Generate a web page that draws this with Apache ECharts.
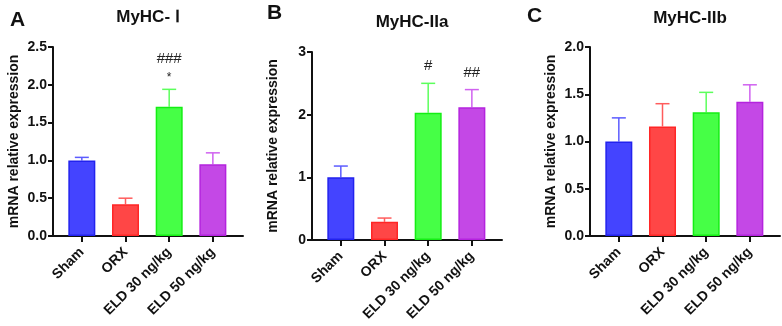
<!DOCTYPE html>
<html>
<head>
<meta charset="utf-8">
<style>
  html, body { margin: 0; padding: 0; background: #fff; }
  #chart { width: 782px; height: 326px; }
</style>
<script src="https://cdn.jsdelivr.net/npm/echarts@6/dist/echarts.min.js"></script>
</head>
<body>
<div id="chart"></div>
<script>
const categories = ['Sham', 'ORX', 'ELD 30 ng/kg', 'ELD 50 ng/kg']
const titles = ['MyHC- Ⅰ', 'MyHC-IIa', 'MyHC-IIb']
const letters = ['A', 'B', 'C']

// bar height (mean) and top of the error whisker (mean + SD)
const meanA = [1.0, 0.42, 1.71, 0.95]
const errA = [1.04, 0.50, 1.94, 1.10]
const meanB = [1.0, 0.29, 2.03, 2.12]
const errB = [1.18, 0.35, 2.50, 2.40]
const meanC = [1.0, 1.16, 1.31, 1.42]
const errC = [1.25, 1.40, 1.52, 1.60]

// significance marks
const starA = ['', '', '*', '']
const hashA = ['', '', '###', '']
const starB = ['', '', '', '']
const hashB = ['', '', '#', '##']
const starC = ['', '', '', '']
const hashC = ['', '', '', '']

// y axis ranges
const yMax = [2.5, 3, 2]
const yStep = [0.5, 1, 0.5]
const yDigits = [1, 0, 1]

const fills = ['#4444FF', '#FF4646', '#46FF46', '#C448E6']
const borders = ['#2222EE', '#FF2626', '#14EE14', '#B423DE']
const whiskers = ['#5C5CFF', '#FF5C5C', '#5CFF5C', '#D062F0']

const font = "'Liberation Sans', Arial, sans-serif"
const chart = echarts.init(document.getElementById('chart'))

const panels = [
  { mean: meanA, err: errA, star: starA, hash: hashA, grid: { left: 53, top: 47, width: 190, height: 189 } },
  { mean: meanB, err: errB, star: starB, hash: hashB, grid: { left: 312, top: 52, width: 190, height: 188 } },
  { mean: meanC, err: errC, star: starC, hash: hashC, grid: { left: 590, top: 47, width: 190, height: 189 } }
]
const titleX = [143, 407, 685]
const titleY = [4, 9, 5]
const letterPos = [[5, 5], [262, -2], [522, 1]]

function errorRender (panel) {
  return function (params, api) {
    const i = api.value(0)
    const base = api.coord([i, api.value(1)])
    const top = api.coord([i, api.value(2)])
    const color = whiskers[params.dataIndex]
    const children = [
      { type: 'line', shape: { x1: base[0], y1: base[1], x2: top[0], y2: top[1] }, style: { stroke: color, lineWidth: 1.5 } },
      { type: 'line', shape: { x1: top[0] - 7, y1: top[1], x2: top[0] + 7, y2: top[1] }, style: { stroke: color, lineWidth: 1.5 } }
    ]
    const star = panel.star[params.dataIndex]
    const hash = panel.hash[params.dataIndex]
    if (star) {
      children.push({ type: 'text', style: { text: star, x: top[0], y: top[1] - 12, align: 'center', verticalAlign: 'middle', font: '12px ' + font, fill: '#222' } })
    }
    if (hash) {
      children.push({ type: 'text', style: { text: hash, x: top[0], y: top[1] - (star ? 30 : 17), align: 'center', verticalAlign: 'middle', font: '15px ' + font, fill: '#222' } })
    }
    return { type: 'group', children: children }
  }
}

const option = {
  animation: false,
  title: [],
  grid: [],
  xAxis: [],
  yAxis: [],
  series: []
}

panels.forEach(function (p, k) {
  option.title.push({
    text: titles[k],
    left: titleX[k],
    top: titleY[k],
    textAlign: 'center',
    textStyle: { fontFamily: font, fontWeight: 'bold', fontSize: 17, color: '#111' }
  })
  option.title.push({
    text: letters[k],
    left: letterPos[k][0],
    top: letterPos[k][1],
    textStyle: { fontFamily: font, fontWeight: 'bold', fontSize: 21, color: '#111' }
  })
  option.grid.push(p.grid)
  option.xAxis.push({
    type: 'value',
    gridIndex: k,
    min: -0.66,
    max: 3.69,
    splitLine: { show: false },
    axisLine: { show: true, onZero: false, lineStyle: { color: '#111', width: 2 } },
    axisTick: { show: true, customValues: [0, 1, 2, 3], length: 6, lineStyle: { color: '#111', width: 2 } },
    axisLabel: {
      customValues: [0, 1, 2, 3],
      rotate: 45,
      margin: 14,
      fontFamily: font,
      fontWeight: 'bold',
      fontSize: 14,
      color: '#111',
      formatter: function (v) { return categories[Math.round(v)] }
    }
  })
  option.yAxis.push({
    type: 'value',
    gridIndex: k,
    min: 0,
    max: yMax[k],
    interval: yStep[k],
    name: 'mRNA relative expression',
    nameLocation: 'middle',
    nameGap: 32,
    nameTextStyle: { fontFamily: font, fontWeight: 'bold', fontSize: 14, color: '#111' },
    splitLine: { show: false },
    axisLine: { show: true, onZero: false, lineStyle: { color: '#111', width: 2 } },
    axisTick: { show: true, length: 5, lineStyle: { color: '#111', width: 2 } },
    axisLabel: {
      margin: 6,
      fontFamily: font,
      fontWeight: 'bold',
      fontSize: 14,
      color: '#111',
      formatter: function (v) { return v.toFixed(yDigits[k]) }
    }
  })
  option.series.push({
    type: 'custom',
    xAxisIndex: k,
    yAxisIndex: k,
    renderItem: errorRender(p),
    clip: false,
    z: 1,
    data: p.mean.map(function (m, i) { return [i, m, p.err[i]] })
  })
  option.series.push({
    type: 'bar',
    xAxisIndex: k,
    yAxisIndex: k,
    barWidth: 27,
    z: 2,
    data: p.mean.map(function (m, i) {
      return { value: [i, m], itemStyle: { color: fills[i], borderColor: borders[i], borderWidth: 1.5 } }
    })
  })
})

chart.setOption(option)
</script>
</body>
</html>
